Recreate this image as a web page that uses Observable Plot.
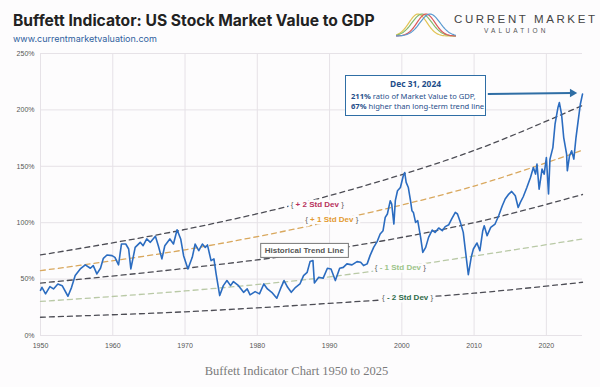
<!DOCTYPE html>
<html>
<head>
<meta charset="utf-8">
<script src="https://cdn.jsdelivr.net/npm/d3@7"></script>
<script src="https://cdn.jsdelivr.net/npm/@observablehq/plot@0.6"></script>
<style>
  html, body { margin: 0; padding: 0; background: #fdfcfd; }
  #page { position: relative; width: 600px; height: 387px; overflow: hidden; background: #fdfcfd; font-family: Inter, "Open Sans", sans-serif; }
  #title { position: absolute; left: 13px; top: 11px; font-size: 16px; font-weight: 700; color: #222; letter-spacing: 0px; white-space: nowrap; }
  #url { position: absolute; left: 13px; top: 33px; font-size: 9px; color: #2f5f9e; white-space: nowrap; }
  #logo { position: absolute; left: 396px; top: 9px; }
  #brand1 { position: absolute; left: 454px; top: 13px; font-family: "Liberation Sans", Arial, sans-serif; font-size: 11.5px; letter-spacing: 2.6px; color: #444; white-space: nowrap; }
  #brand2 { position: absolute; left: 484px; top: 27px; font-family: "Liberation Sans", Arial, sans-serif; font-size: 6.5px; letter-spacing: 3.2px; color: #555; white-space: nowrap; }
  #chart { position: absolute; left: 0; top: 45px; }
  #note { position: absolute; left: 345px; top: 75px; width: 139px; height: 39px; border: 1.5px solid #2f6ea5; background: #fff; color: #1f4e8a; font-family: "Noto Sans", "Open Sans", sans-serif; font-size: 7.6px; line-height: 10.5px; box-sizing: content-box; }
  #note .h { text-align: center; font-weight: 700; font-size: 8.4px; margin-top: 3px; margin-bottom: 1px; }
  #note .l { padding-left: 5px; white-space: nowrap; }
  #caption { position: absolute; left: 0; width: 593px; top: 364px; text-align: center; font-family: "Liberation Serif", "DejaVu Serif", serif; font-size: 12.5px; color: #7a7a7a; }
</style>
</head>
<body>
<div id="page">
  <div id="title">Buffett Indicator: US Stock Market Value to GDP</div>
  <div id="url">www.currentmarketvaluation.com</div>
  <svg id="logo" width="60" height="30"></svg>
  <div id="brand1">CURRENT MARKET</div>
  <div id="brand2">VALUATION</div>
  <div id="chart"></div>
  <div id="note">
    <div class="h">Dec 31, 2024</div>
    <div class="l"><b>211%</b> ratio of Market Value to GDP,</div>
    <div class="l"><b>67%</b> higher than long-term trend line</div>
  </div>
  <div id="caption">Buffett Indicator Chart 1950 to 2025</div>
</div>
<script>
// ---- Data ----
const years = [1950.0,1950.2,1950.7,1951.3,1951.8,1952.4,1953.0,1953.8,1954.3,1954.8,1955.5,1956.2,1956.9,1957.3,1957.8,1958.3,1958.7,1959.2,1959.9,1960.3,1960.8,1961.2,1961.8,1962.2,1962.5,1963.1,1963.8,1964.2,1964.7,1965.2,1965.9,1966.3,1966.8,1967.2,1967.9,1968.4,1968.9,1969.4,1969.8,1970.4,1971.0,1971.4,1971.9,1972.4,1972.8,1973.1,1973.6,1974.0,1974.3,1974.8,1975.3,1975.8,1976.3,1976.7,1977.4,1978.1,1978.6,1979.0,1979.7,1980.3,1980.9,1981.4,1982.0,1982.7,1983.2,1983.7,1984.2,1984.7,1985.3,1985.9,1986.4,1986.9,1987.3,1987.7,1987.9,1988.5,1989.1,1989.7,1990.2,1990.8,1991.4,1991.9,1992.4,1993.1,1993.8,1994.3,1994.7,1995.2,1995.6,1996.1,1996.6,1997.0,1997.4,1997.7,1998.0,1998.4,1998.6,1998.9,1999.1,1999.4,1999.8,2000.2,2000.4,2000.6,2000.9,2001.2,2001.4,2001.6,2001.9,2002.2,2002.6,2002.9,2003.3,2003.7,2004.2,2004.6,2005.1,2005.6,2006.0,2006.5,2006.9,2007.4,2007.7,2008.1,2008.5,2008.8,2009.2,2009.6,2009.9,2010.4,2010.8,2011.2,2011.4,2011.8,2012.3,2012.9,2013.4,2013.9,2014.3,2014.8,2015.2,2015.7,2016.1,2016.4,2016.8,2017.3,2017.8,2018.2,2018.5,2018.7,2019.0,2019.4,2019.7,2020.0,2020.3,2020.5,2020.9,2021.2,2021.6,2021.8,2022.1,2022.4,2022.8,2022.9,2023.2,2023.5,2023.8,2024.1,2024.4,2024.7,2025.0];
const ratio = [40,42.7,36.9,43.4,41.3,45.7,44.2,34.8,42.7,53.1,59,62.6,59.6,62,54.6,59.6,68.4,71.4,70.8,69.3,62.6,81.1,81.1,76.7,59,78.1,82.6,79.6,85.6,82.6,87.9,79.6,67.9,79.6,85.6,81.1,93.8,85.6,70.8,59,69.3,81.1,75.2,81.1,78.1,80.3,66.4,67.9,54.6,35.4,44.2,48.7,44.2,47.8,44.2,38.3,41.3,36,38.9,36.9,45.7,41.3,38.3,33,41.3,48.7,42.7,38.3,42.7,45.7,53.1,56,65.5,66.4,46.5,51.6,50.7,59.6,59,48.7,59.6,60.4,63.5,62.6,65.5,64.9,62,63.5,70.8,78.1,83.5,90,92.9,104.7,107.7,119.5,116.5,98.8,119.5,128.3,131.2,141.6,144.5,135.7,131.2,119.5,110.6,109.1,100.3,101.8,87,73.7,78.1,87,93.5,91.4,95.3,92.9,96.5,98.2,103.3,109.1,107.7,100.3,91.4,75.2,54,69.3,76.7,82,75.2,92.9,97.3,88.5,95.8,98.8,106.2,115,121,125.4,127.7,123.9,113.5,118,123,131.2,140.1,148.9,143.1,151.9,129.8,147.5,143.1,157.8,125.4,156.4,166.6,187.3,202,206.5,196.2,175.5,160.8,146,159.3,163.7,156.4,175.5,190.3,205,214];

const bandYears = [1950, 1970, 1990, 2010, 2025];
const plus2  = [71.4, 94, 124, 164, 204];
const plus1  = [57.5, 76, 101, 132.5, 164.3];
const trend  = [46.5, 59.5, 76, 100, 125];
const minus1 = [30.2, 39.5, 52, 70.5, 85.6];
const minus2 = [16.2, 21, 28.5, 37.5, 47.2];

const xTicks = [1950, 1960, 1970, 1980, 1990, 2000, 2010, 2020];
const yTicks = [0, 50, 100, 150, 200, 250];

const bandLabels = ["+ 2 Std Dev", "+ 1 Std Dev", "- 1 Std Dev", "- 2 Std Dev"];
const bandLabelYear = [1988.3, 1990.3, 1999.8, 2000.8];
const bandLabelValue = [116.5, 102.5, 60, 33.5];
const trendLabel = "Historical Trend Line";
const trendLabelYear = 1986.5;
const trendLabelValue = 75.5;

const arrowFrom = {year: 2011.9, value: 214};
const arrowTo = {year: 2023.6, value: 215};

// ---- Build tables ----
const series = years.map((y, i) => ({year: y, value: ratio[i]}));
const bandRow = arr => bandYears.map((y, i) => ({year: y, value: arr[i]}));
const bandLabelRows = bandLabels.map((t, i) => ({text: t, year: bandLabelYear[i], value: bandLabelValue[i]}));
const labelColors = ["#b8325c", "#e39a30", "#9cc48a", "#2f6b4a"];

const dash = "5,4";
const grid = "#e6e2e7";

const chart = Plot.plot({
  width: 600,
  height: 310,
  marginLeft: 40,
  marginRight: 18,
  marginTop: 8,
  marginBottom: 20,
  style: {background: "transparent", fontFamily: "Liberation Sans, Arial, sans-serif", fontSize: "7px", color: "#555"},
  x: {domain: [1950, 2025], label: null},
  y: {domain: [0, 250], label: null},
  marks: [
    Plot.gridX(xTicks, {stroke: grid, strokeOpacity: 1, strokeWidth: 1}),
    Plot.gridY(yTicks, {stroke: grid, strokeOpacity: 1, strokeWidth: 1}),
    Plot.axisX(xTicks, {tickSize: 0, tickPadding: 8, tickFormat: d => String(d), fontSize: 7, fill: "#555"}),
    Plot.axisY(yTicks, {tickSize: 0, tickPadding: 6, tickFormat: d => d + "%", fontSize: 7, fill: "#555"}),
    Plot.line(bandRow(minus2), {x: "year", y: "value", curve: "catmull-rom", stroke: "#4d4d55", strokeWidth: 1.3, strokeDasharray: dash}),
    Plot.line(bandRow(minus1), {x: "year", y: "value", curve: "catmull-rom", stroke: "#b9c9a6", strokeWidth: 1.3, strokeDasharray: dash}),
    Plot.line(bandRow(trend), {x: "year", y: "value", curve: "catmull-rom", stroke: "#4d4d55", strokeWidth: 1.3, strokeDasharray: dash}),
    Plot.line(bandRow(plus1), {x: "year", y: "value", curve: "catmull-rom", stroke: "#d9a85e", strokeWidth: 1.3, strokeDasharray: dash}),
    Plot.line(bandRow(plus2), {x: "year", y: "value", curve: "catmull-rom", stroke: "#4d4d55", strokeWidth: 1.3, strokeDasharray: dash}),
    Plot.line(series, {x: "year", y: "value", stroke: "#2b6cc0", strokeWidth: 1.6, strokeLinejoin: "round"}),
    Plot.text(bandLabelRows, {x: "year", y: "value", text: d => "{ " + d.text + " }", fontSize: 8, fontWeight: "bold", fill: "#555", stroke: "#fdfcfd", strokeWidth: 5, className: "bandlbl"}),
    Plot.text([{text: trendLabel, year: trendLabelYear, value: trendLabelValue}], {x: "year", y: "value", text: "text", fontSize: 8, fontWeight: "bold", fill: "#555", className: "trendlbl"}),
    Plot.link([{}], {x1: () => arrowFrom.year, y1: () => arrowFrom.value, x2: () => arrowTo.year, y2: () => arrowTo.value, stroke: "#2f6ea5", strokeWidth: 2}),
    Plot.dot([arrowTo], {x: "year", y: "value", symbol: "triangle2", r: 4, fill: "#2f6ea5", rotate: 90})
  ]
});
document.getElementById("chart").appendChild(chart);

// Fit the title to the reference width
(function () {
  const t = document.getElementById("title");
  const w = t.getBoundingClientRect().width;
  if (w > 0) t.style.fontSize = (16 * 362 / w).toFixed(2) + "px";
})();

// Colour the band label words, keep the braces grey
d3.select(chart).selectAll(".bandlbl text").each(function(_, i) {
  const t = d3.select(this);
  t.text(null);
  t.append("tspan").attr("fill", "#666").attr("font-weight", "normal").text("{ ");
  t.append("tspan").attr("fill", labelColors[i]).text(bandLabels[i]);
  t.append("tspan").attr("fill", "#666").attr("font-weight", "normal").text(" }");
});
// Box round the trend line label (drawn in the text's own coordinate frame)
d3.select(chart).selectAll(".trendlbl text").each(function() {
  const b = this.getBBox();
  const r = document.createElementNS("http://www.w3.org/2000/svg", "rect");
  r.setAttribute("x", b.x - 4);
  r.setAttribute("y", b.y - 2.5);
  r.setAttribute("width", b.width + 8);
  r.setAttribute("height", b.height + 5);
  r.setAttribute("fill", "#fff");
  r.setAttribute("stroke", "#777");
  r.setAttribute("stroke-width", "1");
  const tf = this.getAttribute("transform");
  if (tf) r.setAttribute("transform", tf);
  this.parentNode.insertBefore(r, this);
});

// Logo curves
const logo = d3.select("#logo");
const curves = [{c: 22, s: 9, col: "#e2c455"}, {c: 26, s: 10, col: "#86b96a"}, {c: 30, s: 9, col: "#d9585a"}, {c: 34, s: 10, col: "#5a9ad0"}];
const xs = d3.range(0, 61, 1);
curves.forEach(k => {
  logo.append("path")
    .attr("d", d3.line()(xs.map(x => [x, 27 - 22 * Math.exp(-((x - k.c) ** 2) / (2 * k.s * k.s))])))
    .attr("fill", "none").attr("stroke", k.col).attr("stroke-width", 1.2);
});
</script>
</body>
</html>
